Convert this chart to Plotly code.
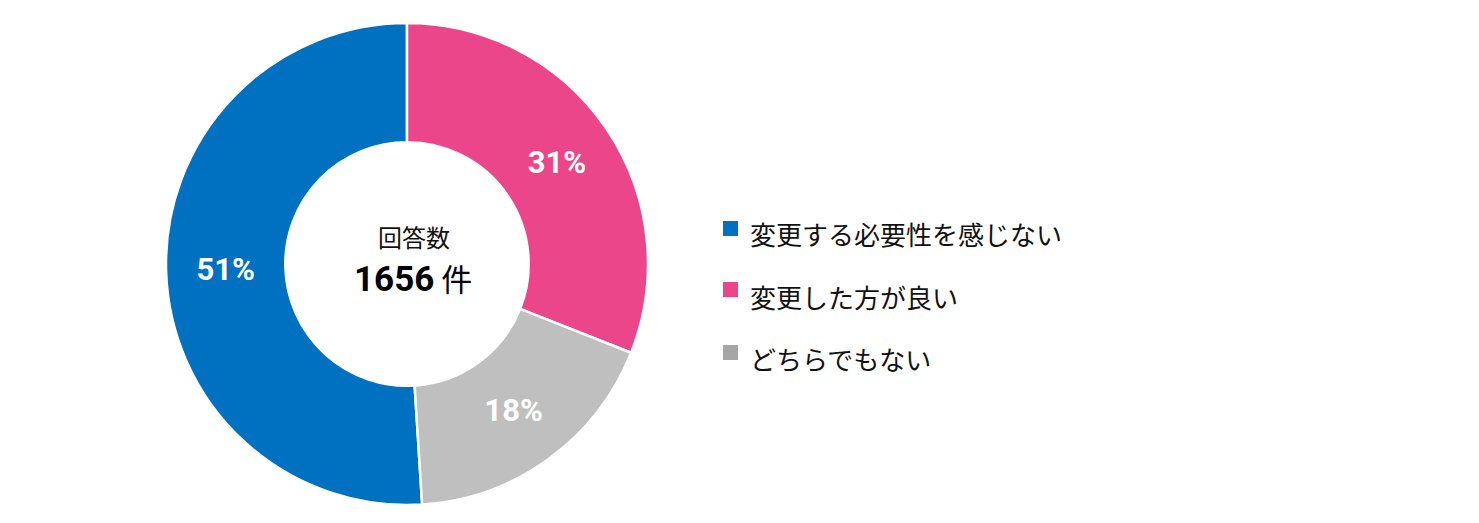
import plotly.graph_objects as go

labels = ["変更する必要性を感じない", "変更した方が良い", "どちらでもない"]
values = [51, 31, 18]
slice_colors = ["#0070C0", "#EC468A", "#BFBFBF"]
legend_colors = ["#0070C0", "#EC468A", "#A6A6A6"]
total_label = "回答数"
total_count = "1656"
total_unit = "件"

W, H = 1479, 523
cx, cy, R = 407, 264, 241

fig = go.Figure()
fig.add_trace(go.Pie(
    labels=labels, values=values, sort=False, direction="clockwise",
    rotation=360 * (values[1] + values[2]) / sum(values),
    hole=0.505,
    marker=dict(colors=slice_colors, line=dict(color="white", width=2.5)),
    textinfo="percent", texttemplate="%{percent:.0%}",
    textposition="inside", insidetextorientation="horizontal",
    textfont=dict(family="Roboto", size=31, color="white", weight="bold"),
    showlegend=False, hoverinfo="label+percent",
    domain=dict(x=[(cx - R) / W, (cx + R) / W], y=[1 - (cy + R) / H, 1 - (cy - R) / H]),
))

annotations = [
    dict(x=376 / W, y=1 - 237 / H, xref="paper", yref="paper", text=total_label, showarrow=False,
         xanchor="left", yanchor="middle",
         font=dict(family="Noto Sans CJK JP", size=24, color="#111111")),
    dict(x=352 / W, y=1 - 277 / H, xref="paper", yref="paper",
         text=f"<b><span style='font-family:Roboto;font-size:35px'>{total_count}</span></b> "
              f"<span style='font-family:Noto Sans CJK JP;font-size:31px'>{total_unit}</span>",
         showarrow=False, xanchor="left", yanchor="middle",
         font=dict(family="Noto Sans CJK JP", size=31, color="#000000")),
]
shapes = []
row_y = [228.5, 289.5, 352.5]
text_y = [233, 296, 358]
for i, (lab, col) in enumerate(zip(labels, legend_colors)):
    y = row_y[i]
    shapes.append(dict(type="rect", xref="paper", yref="paper",
                       x0=723 / W, x1=738 / W, y0=1 - (y + 7.5) / H, y1=1 - (y - 7.5) / H,
                       fillcolor=col, line=dict(width=0)))
    annotations.append(dict(x=748 / W, y=1 - text_y[i] / H, xref="paper", yref="paper", text=lab,
                            showarrow=False, xanchor="left", yanchor="middle",
                            font=dict(family="Noto Sans CJK JP", size=26, color="#111111")))

fig.update_layout(width=W, height=H, margin=dict(l=0, r=0, t=0, b=0),
                  paper_bgcolor="white", plot_bgcolor="white",
                  annotations=annotations, shapes=shapes)
fig.write_html("out.html", config={"displayModeBar": False},
               post_script="document.body.style.margin='0';")
